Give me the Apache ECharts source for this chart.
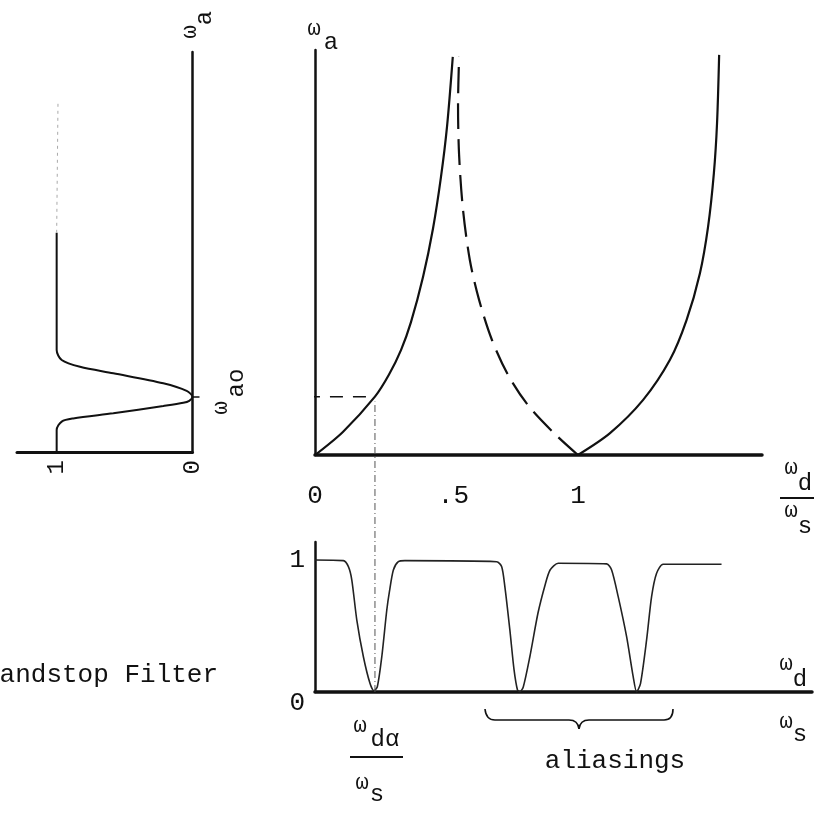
<!DOCTYPE html>
<html><head><meta charset="utf-8">
<script src="https://cdn.jsdelivr.net/npm/echarts@6/dist/echarts.min.js"></script>
<style>html,body{margin:0;padding:0;background:#fff}#c{width:821px;height:814px}</style>
</head><body><div id="c"></div>
<script>
// ---------- data ----------
// Left panel: analog bandstop magnitude |H(j wa)| (x) vs wa (y)
const leftMagResponse = [[1,0],[1,0.055],[0.963,0.076],[0.878,0.084],[0.583,0.097],[0.215,0.115],[0.068,0.123],[0.024,0.128],[0,0.1375],[0.043,0.153],[0.215,0.172],[0.583,0.197],[0.828,0.213],[0.963,0.230],[1,0.255],[1,0.305],[1,0.548]];
const leftMagFaint = [[1,0.548],[0.99,0.88]];
// Main panel: wa versus wd/ws (frequency warping)
const warpLeft = [[0,0],[0.106,0.057],[0.228,0.144],[0.281,0.198],[0.327,0.259],[0.365,0.328],[0.411,0.440],[0.449,0.560],[0.479,0.686],[0.502,0.810],[0.524,0.983]];
const warpDashed = [[1,0],[0.909,0.054],[0.810,0.123],[0.734,0.198],[0.673,0.284],[0.624,0.383],[0.589,0.481],[0.563,0.605],[0.548,0.741],[0.544,0.864],[0.548,0.983]];
const warpRight = [[1,0],[1.122,0.054],[1.248,0.136],[1.350,0.235],[1.413,0.333],[1.464,0.449],[1.495,0.564],[1.517,0.696],[1.529,0.819],[1.537,0.988]];
// Bottom panel: digital magnitude vs wd/ws
const digitalResponse = [[0,1],[0.108,0.995],[0.127,0.949],[0.140,0.848],[0.159,0.545],[0.184,0.267],[0.209,0.066],[0.224,0.01],[0.237,0.040],[0.254,0.267],[0.273,0.621],[0.283,0.760],[0.298,0.924],[0.317,0.987],[0.342,0.995],[0.691,0.987],[0.710,0.949],[0.722,0.798],[0.741,0.470],[0.757,0.167],[0.770,0.015],[0.779,0.002],[0.792,0.038],[0.817,0.267],[0.848,0.598],[0.875,0.811],[0.894,0.924],[0.925,0.975],[1.109,0.970],[1.128,0.924],[1.153,0.722],[1.185,0.419],[1.210,0.116],[1.223,0],[1.238,0.066],[1.261,0.394],[1.280,0.722],[1.299,0.899],[1.324,0.967],[1.546,0.967]];
// notch frequencies
const omegaAo = 0.144;        // analog notch (main-panel wa units)
const omegaAoLeft = 0.1375;   // same level in left panel units
const omegaDo = 0.228;        // digital notch wd/ws
const leftAxisAt = -0.468;    // left panel axis expressed in main x units
const mainTicks = [0, 0.5, 1];
const mainTickText = ['0', '.5', '1'];
const bottomTicks = [0, 1];
const leftTicks = [0, 1];

// ---------- chart ----------
const FONT = '"Liberation Mono", "DejaVu Sans Mono", monospace';
const INK = '#111';
const chart = echarts.init(document.getElementById('c'), null, {renderer: 'canvas'});

function axisLine(w) { return {show: true, onZero: false, lineStyle: {color: INK, width: w}}; }
function txt(s, x, y, size, rot) {
  return {type: 'text', x: x, y: y, rotation: rot || 0, z: 10,
    style: {text: s, x: 0, y: 0, fill: INK, fontSize: size, fontFamily: FONT,
      align: 'center', verticalAlign: 'middle', textAlign: 'center', textVerticalAlign: 'middle'}};
}
function seg(x1, y1, x2, y2, w) {
  return {type: 'line', z: 10, shape: {x1: x1, y1: y1, x2: x2, y2: y2}, style: {stroke: INK, lineWidth: w}};
}
function curve(x1, y1, cx, cy, x2, y2, w) {
  return {type: 'bezierCurve', z: 10, shape: {x1: x1, y1: y1, cpx1: cx, cpy1: cy, x2: x2, y2: y2},
    style: {stroke: INK, lineWidth: w, fill: null}};
}
const R = Math.PI / 2;

const option = {
  backgroundColor: '#fff',
  animation: false,
  grid: [
    {left: 17, top: 52, width: 175.5, height: 400},
    {left: 315, top: 50, width: 447, height: 405},
    {left: 315, top: 542, width: 497, height: 150}
  ],
  xAxis: [
    {gridIndex: 0, type: 'value', min: 0, max: 1.292, inverse: true,
     axisLine: axisLine(3), splitLine: {show: false}, axisTick: {show: false},
     axisLabel: {customValues: leftTicks, rotate: 90, color: INK, fontSize: 24, fontFamily: FONT, margin: 8}},
    {gridIndex: 1, type: 'value', min: 0, max: 1.70,
     axisLine: axisLine(3.5), splitLine: {show: false}, axisTick: {show: false},
     axisLabel: {customValues: mainTicks, color: INK, fontSize: 26, fontFamily: FONT, margin: 28,
       formatter: function (v) { const i = mainTicks.indexOf(v); return i === 1 ? '{h|' + mainTickText[i] + '}' : mainTickText[i]; },
       rich: {h: {fontSize: 26, fontFamily: FONT, color: INK, padding: [0, 0, 0, 14]}}}},
    {gridIndex: 2, type: 'value', min: 0, max: 1.89,
     axisLine: axisLine(3.5), splitLine: {show: false}, axisTick: {show: false}, axisLabel: {show: false}}
  ],
  yAxis: [
    {gridIndex: 0, type: 'value', min: 0, max: 1, position: 'right',
     axisLine: axisLine(2.5), splitLine: {show: false},
     axisTick: {show: true, customValues: [omegaAoLeft], length: 7, lineStyle: {color: INK, width: 1.5}},
     axisLabel: {show: false}},
    {gridIndex: 1, type: 'value', min: 0, max: 1,
     axisLine: axisLine(2.5), splitLine: {show: false}, axisTick: {show: false}, axisLabel: {show: false}},
    {gridIndex: 2, type: 'value', min: 0, max: 1.136,
     axisLine: axisLine(2.5), splitLine: {show: false}, axisTick: {show: false},
     axisLabel: {customValues: bottomTicks, color: INK, fontSize: 26, fontFamily: FONT, margin: 10,
       formatter: function (v) { return v === 0 ? '{z|0}' : '1'; },
       rich: {z: {fontSize: 26, fontFamily: FONT, color: INK, padding: [22, 0, 0, 0]}}}}
  ],
  series: [
    {type: 'line', xAxisIndex: 0, yAxisIndex: 0, data: leftMagResponse, smooth: 0.3, symbol: 'none',
     lineStyle: {color: INK, width: 2}},
    {type: 'line', xAxisIndex: 0, yAxisIndex: 0, data: leftMagFaint, symbol: 'none',
     lineStyle: {color: '#aaa', width: 1, type: [3, 4]}},
    {type: 'line', xAxisIndex: 1, yAxisIndex: 1, data: warpLeft, smooth: 0.3, symbol: 'none',
     lineStyle: {color: INK, width: 2.2}},
    {type: 'line', xAxisIndex: 1, yAxisIndex: 1, data: warpDashed, smooth: 0.3, symbol: 'none',
     lineStyle: {color: INK, width: 2.2, type: [26, 10]}},
    {type: 'line', xAxisIndex: 1, yAxisIndex: 1, data: warpRight, smooth: 0.3, symbol: 'none',
     lineStyle: {color: INK, width: 2.2}},
    {type: 'line', xAxisIndex: 1, yAxisIndex: 1, clip: false, symbol: 'none',
     data: [[leftAxisAt, omegaAo], [omegaDo, omegaAo]],
     lineStyle: {color: INK, width: 1.6, type: [13, 10]}},
    {type: 'line', xAxisIndex: 2, yAxisIndex: 2, data: digitalResponse, smooth: 0.25, symbol: 'none',
     lineStyle: {color: '#222', width: 1.6}},
    {type: 'line', xAxisIndex: 2, yAxisIndex: 2, clip: false, symbol: 'none',
     data: [[omegaDo, 0], [omegaDo, 2.2]],
     lineStyle: {color: '#555', width: 1, type: [7, 3, 1, 3]}}
  ],
  graphic: [
    // main axis titles
    txt('ω', 314, 29, 22), txt('a', 331, 43, 24),
    txt('ω', 791, 468, 22), txt('d', 805, 484, 24),
    seg(780, 498, 814, 498, 2),
    txt('ω', 791, 511, 22), txt('s', 805, 527, 24),
    // left panel titles (rotated)
    txt('ω', 190, 32, 22, R), txt('a', 205, 18, 24, R),
    txt('ω', 221, 408, 22, R), txt('ao', 237, 383, 24, R),
    // bottom panel axis titles
    txt('ω', 786, 664, 22), txt('d', 800, 680, 24),
    txt('ω', 786, 722, 22), txt('s', 800, 735, 24),
    // notch label wd0 / ws
    txt('ω', 360, 726, 22), txt('dα', 385, 740, 24),
    seg(350, 757, 403, 757, 2),
    txt('ω', 362, 783, 22), txt('s', 377, 795, 24),
    // aliasing brace and label
    curve(485, 709, 486, 720, 495, 720, 1.6),
    seg(495, 720, 569, 720, 1.6),
    curve(569, 720, 578, 720, 579, 729, 1.6),
    curve(579, 729, 580, 720, 589, 720, 1.6),
    seg(589, 720, 664, 720, 1.6),
    curve(664, 720, 673, 720, 673, 709, 1.6),
    txt('aliasings', 615, 761, 26),
    // caption fragment (cut at left edge)
    {type: 'text', x: -16, y: 675, z: 10,
     style: {text: 'Bandstop Filter', x: 0, y: 0, fill: INK, fontSize: 26, fontFamily: FONT,
       align: 'left', verticalAlign: 'middle', textAlign: 'left', textVerticalAlign: 'middle'}}
  ]
};
chart.setOption(option);
</script></body></html>
